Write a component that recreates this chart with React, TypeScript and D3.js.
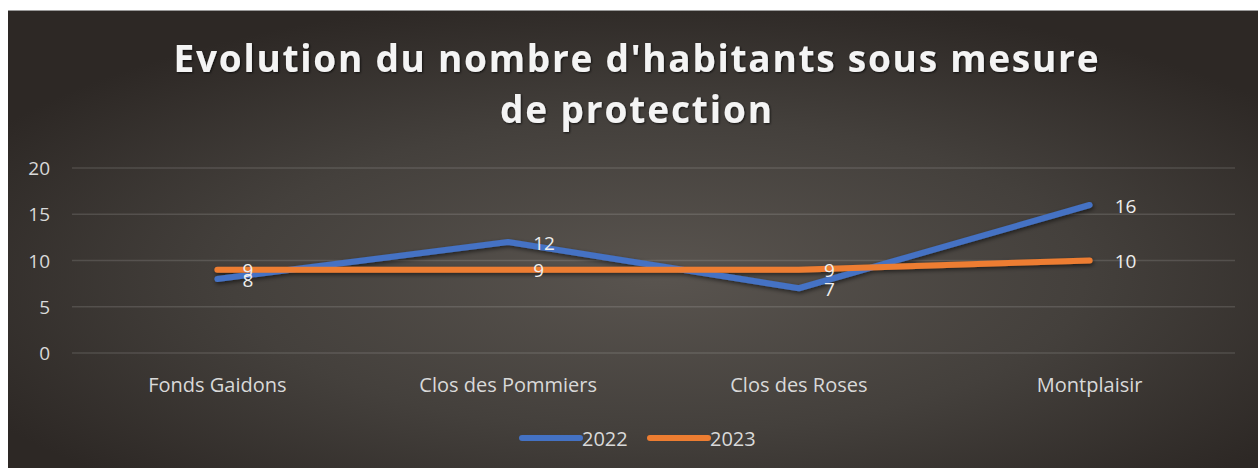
import * as d3 from 'd3';

const W = 1259;
const H = 468;

const categories = ['Fonds Gaidons', 'Clos des Pommiers', 'Clos des Roses', 'Montplaisir'];
const values2022 = [8, 12, 7, 16];
const values2023 = [9, 9, 9, 10];
const yTicks = [0, 5, 10, 15, 20];
const titleLines = ["Evolution du nombre d'habitants sous mesure", 'de protection'];

const series = [
  { name: '2022', values: values2022, color: '#4472C4', dy: 1 },
  { name: '2023', values: values2023, color: '#ED7D31', dy: 0 },
];

const FONT = '"Open Sans", "Noto Sans", sans-serif';
const TEXT = '#d9d9d9';

export default function App() {
  const x = d3.scalePoint<string>().domain(categories).range([72, 1235]).padding(0.5);
  const y = d3.scaleLinear().domain([0, 20]).range([353, 168]);

  const line = d3.line<number>()
    .x((_, i) => x(categories[i]) as number)
    .y(d => y(d));

  return (
    <svg
      width={W}
      height={H}
      style={{ position: 'absolute', left: 0, top: 0, background: '#ffffff' }}
    >
      <defs>
        <radialGradient id="bg" cx="52%" cy="58%" r="62%">
          <stop offset="0%" stopColor="#59544f" />
          <stop offset="55%" stopColor="#44403c" />
          <stop offset="100%" stopColor="#2d2825" />
        </radialGradient>
        <filter id="shadow" x="-10%" y="-50%" width="120%" height="200%">
          <feDropShadow dx="1" dy="2" stdDeviation="2" floodColor="#000" floodOpacity="0.55" />
        </filter>
        <filter id="tshadow" x="-5%" y="-30%" width="110%" height="160%">
          <feDropShadow dx="1" dy="1" stdDeviation="1.2" floodColor="#000" floodOpacity="0.7" />
        </filter>
      </defs>

      {/* chart frame */}
      <rect x={8} y={11} width={1250} height={457} fill="url(#bg)" />
      <line x1={8} x2={1258} y1={10.5} y2={10.5} stroke="#9a9a9a" strokeWidth={1} />

      {/* title */}
      <g filter="url(#tshadow)" fontFamily={FONT} fontWeight={700} fill="#f4f4f4" textAnchor="middle">
        <text x={636} y={72} fontSize={37} textLength={925} lengthAdjust="spacing">{titleLines[0]}</text>
        <text x={636} y={123} fontSize={37} textLength={272} lengthAdjust="spacing">{titleLines[1]}</text>
      </g>

      {/* gridlines + y axis */}
      <g>
        {yTicks.map(t => (
          <g key={t}>
            <line x1={72} x2={1235} y1={y(t)} y2={y(t)} stroke="rgba(255,255,255,0.13)" strokeWidth={1.5} />
            <text
              x={50}
              y={y(t)}
              textAnchor="end"
              dominantBaseline="central"
              fontFamily={FONT}
              fontSize={19}
              fill={TEXT}
            >
              {t}
            </text>
          </g>
        ))}
      </g>

      {/* category labels */}
      <g fontFamily={FONT} fontSize={20} fill={TEXT} textAnchor="middle">
        {categories.map(c => (
          <text key={c} x={x(c)} y={392}>{c}</text>
        ))}
      </g>

      {/* lines */}
      <g filter="url(#shadow)">
        {series.map(s => (
          <path
            key={s.name}
            d={line(s.values) ?? ''}
            fill="none"
            stroke={s.color}
            strokeWidth={6}
            strokeLinecap="round"
            strokeLinejoin="round"
          />
        ))}
      </g>

      {/* data labels */}
      <g fontFamily={FONT} fontSize={19} fill="#eeeeee">
        {series.map(s =>
          s.values.map((v, i) => (
            <text
              key={s.name + i}
              x={(x(categories[i]) as number) + 25}
              y={y(v) + s.dy}
              dominantBaseline="central"
            >
              {v}
            </text>
          ))
        )}
      </g>

      {/* legend */}
      <g fontFamily={FONT} fontSize={20} fill={TEXT}>
        {series.map((s, i) => {
          const lx = 522 + i * 128;
          return (
            <g key={s.name}>
              <line x1={lx} x2={lx + 58} y1={438} y2={438} stroke={s.color} strokeWidth={6} strokeLinecap="round" />
              <text x={lx + 60} y={438} dominantBaseline="central">{s.name}</text>
            </g>
          );
        })}
      </g>
    </svg>
  );
}
